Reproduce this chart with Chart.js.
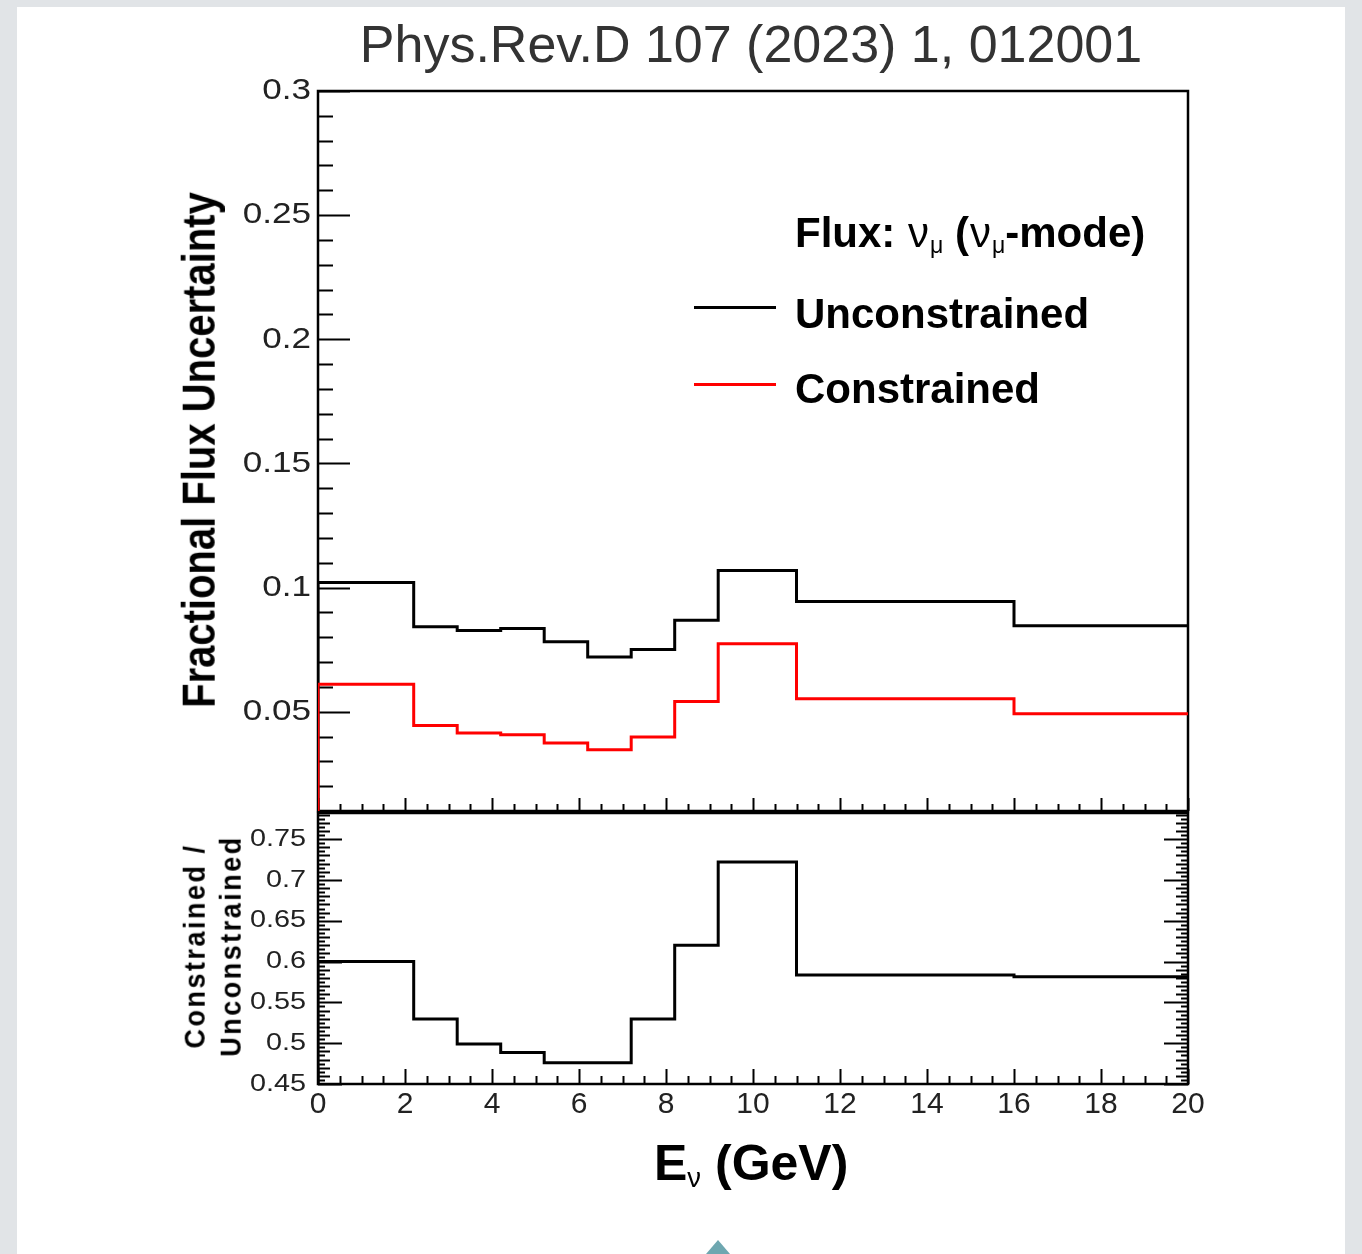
<!DOCTYPE html>
<html>
<head>
<meta charset="utf-8">
<script src="https://cdn.jsdelivr.net/npm/chart.js@4.4.0/dist/chart.umd.min.js"></script>
<style>
  body { margin: 0; width: 1362px; height: 1254px; overflow: hidden; background: #e1e4e7; font-family: 'Liberation Sans', Arial, sans-serif; }
  .sheet { position: absolute; left: 17px; top: 7px; width: 1328px; height: 1247px; background: #fff; }
  canvas { position: absolute; left: 0; }
  .txt { position: absolute; white-space: nowrap; line-height: 1; color: #000; }
  .title { left: 751px; top: 18px; transform: translateX(-50%); font-size: 52px; color: #333; }
  .legend { font-weight: bold; font-size: 42px; left: 795px; }
  .greek { font-weight: normal; padding: 0 1px; }
  .sub { font-size: 0.55em; vertical-align: -0.25em; font-weight: normal; }
  .swatch { position: absolute; left: 694px; width: 82px; height: 3px; }
  .ytitle { font-weight: bold; font-size: 40px; left: 199px; top: 450px; transform: translate(-50%, -50%) scaleX(1.15) rotate(-90deg); }
  .rtitle { font-weight: bold; font-size: 27px; letter-spacing: 2.5px; line-height: 33px; text-align: center; left: 213px; top: 946px; transform: translate(-50%, -50%) scaleX(1.1) rotate(-90deg); }
  .xtitle { font-weight: bold; font-size: 50px; left: 654px; top: 1138px; }
  .tri { position: absolute; left: 706px; top: 1240px; width: 0; height: 0; border-left: 12px solid transparent; border-right: 12px solid transparent; border-bottom: 14px solid #6ea7b0; }
</style>
</head>
<body>
<div class="sheet"></div>
<canvas id="fluxChart" width="1362" height="840" style="top:0"></canvas>
<canvas id="ratioChart" width="1362" height="464" style="top:790px"></canvas>

<div class="txt title">Phys.Rev.D 107 (2023) 1, 012001</div>
<div class="txt legend" style="top:212px">Flux: <span class="greek">ν</span><span class="sub">μ</span> (<span class="greek">ν</span><span class="sub">μ</span>-mode)</div>
<div class="swatch" style="top:306px; background:#000"></div>
<div class="txt legend" style="top:293px">Unconstrained</div>
<div class="swatch" style="top:383px; background:#ff0000"></div>
<div class="txt legend" style="top:368px">Constrained</div>
<div class="txt ytitle">Fractional Flux Uncertainty</div>
<div class="txt rtitle">Constrained /<br>Unconstrained</div>
<div class="txt xtitle">E<span class="sub">ν</span> (GeV)</div>
<div class="tri"></div>

<script>
// bin edges in GeV and per-bin values
const binEdges = [0, 2.2, 3.2, 4.2, 5.2, 6.2, 7.2, 8.2, 9.2, 11, 16, 20];
const unconstrained = [0.102, 0.0842, 0.0827, 0.0835, 0.0782, 0.0720, 0.0750, 0.0868, 0.1069, 0.0944, 0.0846];
const constrained = [0.0611, 0.0444, 0.0414, 0.0407, 0.0374, 0.0347, 0.0398, 0.0541, 0.0774, 0.0552, 0.0492];
const ratio = [0.600, 0.5295, 0.499, 0.4885, 0.476, 0.476, 0.5295, 0.620, 0.722, 0.5835, 0.5815];

const xTicks = [0, 2, 4, 6, 8, 10, 12, 14, 16, 18, 20];
const fluxTicks = [0.05, 0.1, 0.15, 0.2, 0.25, 0.3];
const ratioTicks = [0.45, 0.5, 0.55, 0.6, 0.65, 0.7, 0.75];

// ROOT-style histogram outline: starts at the axis floor, last bin runs to the final edge
function histPoints(values, floor) {
  const pts = [{ x: binEdges[0], y: floor }];
  values.forEach((v, i) => pts.push({ x: binEdges[i], y: v }));
  pts.push({ x: binEdges[binEdges.length - 1], y: values[values.length - 1] });
  return pts;
}

function stepsBetween(min, max, step) {
  const out = [];
  const first = Math.ceil(min / step - 1e-6);
  const last = Math.floor(max / step + 1e-6);
  for (let k = first; k <= last; k++) out.push(k * step);
  return out;
}

// frame, inward ticks and tick labels in ROOT style
const rootAxes = {
  id: 'rootAxes',
  beforeDatasetsDraw(chart, args, o) {
    const { ctx, chartArea: a, scales: { x, y } } = chart;
    ctx.save();
    ctx.strokeStyle = '#000';
    ctx.lineWidth = 2.5;
    ctx.strokeRect(a.left, a.top, a.right - a.left, a.bottom - a.top);

    ctx.lineWidth = 2;
    ctx.beginPath();
    // y ticks
    o.yLevels.forEach(([step, len]) => {
      stepsBetween(y.min, y.max, step).forEach(v => {
        const py = Math.round(y.getPixelForValue(v)) + 0.5;
        ctx.moveTo(a.left, py); ctx.lineTo(a.left + len, py);
        if (o.rightTicks) { ctx.moveTo(a.right, py); ctx.lineTo(a.right - len, py); }
      });
    });
    // x ticks along the bottom
    o.xLevels.forEach(([step, len]) => {
      stepsBetween(x.min, x.max, step).forEach(v => {
        const px = Math.round(x.getPixelForValue(v)) + 0.5;
        ctx.moveTo(px, a.bottom); ctx.lineTo(px, a.bottom - len);
      });
    });
    ctx.stroke();

    // y labels
    ctx.fillStyle = '#222';
    ctx.font = o.yFont + 'px "Liberation Sans", Arial, sans-serif';
    ctx.textAlign = 'right';
    ctx.textBaseline = 'middle';
    y.ticks.forEach(t => {
      ctx.save();
      ctx.translate(a.left - o.yPad, y.getPixelForValue(t.value));
      ctx.scale(o.yStretch, 1);
      ctx.fillText(String(t.value), 0, 0);
      ctx.restore();
    });

    if (o.xLabels) {
      ctx.font = o.xFont + 'px "Liberation Sans", Arial, sans-serif';
      ctx.textAlign = 'center';
      x.ticks.forEach(t => {
        ctx.fillText(String(t.value), x.getPixelForValue(t.value), a.bottom + o.xPad);
      });
    }
    ctx.restore();
  }
};

function axisSet(yMin, yMax, yTickList, yWidth) {
  return {
    x: {
      type: 'linear', min: 0, max: 20,
      afterBuildTicks: s => { s.ticks = xTicks.map(v => ({ value: v })); },
      afterFit: s => { s.height = 0; },
      ticks: { display: false }, grid: { display: false }, border: { display: false }
    },
    y: {
      type: 'linear', min: yMin, max: yMax,
      afterBuildTicks: s => { s.ticks = yTickList.map(v => ({ value: v })); },
      afterFit: s => { s.width = yWidth; },
      ticks: { display: false }, grid: { display: false }, border: { display: false }
    }
  };
}

const lineStyle = { borderWidth: 3, stepped: true, pointRadius: 0, fill: false, tension: 0 };

new Chart(document.getElementById('fluxChart'), {
  type: 'line',
  data: {
    datasets: [
      { label: 'Unconstrained', data: histPoints(unconstrained, 0.01), borderColor: '#000', order: 1, ...lineStyle },
      { label: 'Constrained', data: histPoints(constrained, 0.01), borderColor: '#ff0000', order: 0, ...lineStyle }
    ]
  },
  options: {
    responsive: false,
    animation: false,
    devicePixelRatio: 1,
    layout: { padding: { left: 0, top: 91, right: 174, bottom: 29 } },
    scales: axisSet(0.01, 0.3, fluxTicks, 318),
    plugins: {
      legend: { display: false },
      tooltip: { enabled: false },
      rootAxes: {
        yLevels: [[0.01, 15], [0.05, 32]],
        xLevels: [[0.5, 7], [2, 13]],
        rightTicks: false,
        yFont: 30, yPad: 7, yStretch: 1.17,
        xLabels: false
      }
    }
  },
  plugins: [rootAxes]
});

new Chart(document.getElementById('ratioChart'), {
  type: 'line',
  data: {
    datasets: [
      { label: 'Constrained / Unconstrained', data: histPoints(ratio, 0.45), borderColor: '#000', ...lineStyle }
    ]
  },
  options: {
    responsive: false,
    animation: false,
    devicePixelRatio: 1,
    layout: { padding: { left: 0, top: 23, right: 174, bottom: 170 } },
    scales: axisSet(0.45, 0.782, ratioTicks, 318),
    plugins: {
      legend: { display: false },
      tooltip: { enabled: false },
      rootAxes: {
        yLevels: [[0.005, 7], [0.01, 12], [0.05, 24]],
        xLevels: [[0.5, 8], [2, 15]],
        rightTicks: true,
        yFont: 24, yPad: 12, yStretch: 1.2,
        xLabels: true, xFont: 30, xPad: 21
      }
    }
  },
  plugins: [rootAxes]
});
</script>
</body>
</html>
